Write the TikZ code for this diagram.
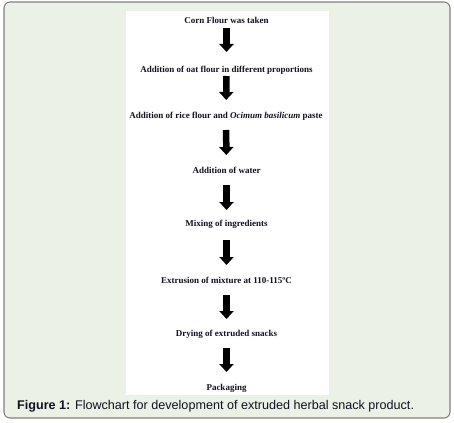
\documentclass[tikz,border=0pt]{standalone}
\usepackage{fontspec}
\setmainfont{Liberation Serif}
\newfontfamily\capfont{Liberation Sans}
\usetikzlibrary{arrows.meta}
\definecolor{panelgreen}{HTML}{EBF1E5}
\definecolor{framegray}{HTML}{808080}
\definecolor{inkblue}{HTML}{111122}
\tikzset{
  stepbox/.style={inner sep=0pt, font=\fontsize{9}{11}\selectfont\bfseries, text=inkblue},
  bigarrow/.style={line width=6.5pt, line cap=butt, -{Triangle[width=14pt,length=8pt]}, black},
}
\begin{document}
\begin{tikzpicture}[x=1pt,y=-1pt]
\useasboundingbox (0,0) rectangle (454,422);
\draw[framegray, line width=1.1pt, fill=panelgreen, rounded corners=6pt] (4,2) rectangle (450,418);
\fill[white] (126,11) rectangle (329,395);
\node[stepbox] (a) at (226.5,20) {Corn Flour was taken};
\node[stepbox] (b) at (226.5,70) {Addition of oat flour in different proportions};
\node[stepbox] (c) at (226,116) {Addition of rice flour and \textit{Ocimum basilicum} paste};
\node[stepbox] (d) at (226.5,170) {Addition of water};
\node[stepbox] (e) at (226.5,224) {Mixing of ingredients};
\node[stepbox] (f) at (226.5,280) {Extrusion of mixture at 110-115ºC};
\node[stepbox] (g) at (226.5,334) {Drying of extruded snacks};
\node[stepbox] (h) at (226.5,388) {Packaging};
\draw[bigarrow, shorten <=8pt, shorten >=18pt] (a.center) -- (b.center);
\draw[bigarrow, shorten <=6pt, shorten >=16pt] (b.center) -- (c.center);
\draw[bigarrow, shorten <=14pt, shorten >=15pt] (c.center) -- (d.center);
\draw[bigarrow, shorten <=15pt, shorten >=14pt] (d.center) -- (e.center);
\draw[bigarrow, shorten <=16pt, shorten >=15pt] (e.center) -- (f.center);
\draw[bigarrow, shorten <=15pt, shorten >=15pt] (f.center) -- (g.center);
\draw[bigarrow, shorten <=14pt, shorten >=16pt] (g.center) -- (h.center);
\node[anchor=west, inner sep=0pt, font=\capfont\fontsize{12.6}{15}\selectfont, text=inkblue] (cap) at (17,406) {\textbf{Figure 1:} Flowchart for development of extruded herbal snack product.};
\end{tikzpicture}
\end{document}
